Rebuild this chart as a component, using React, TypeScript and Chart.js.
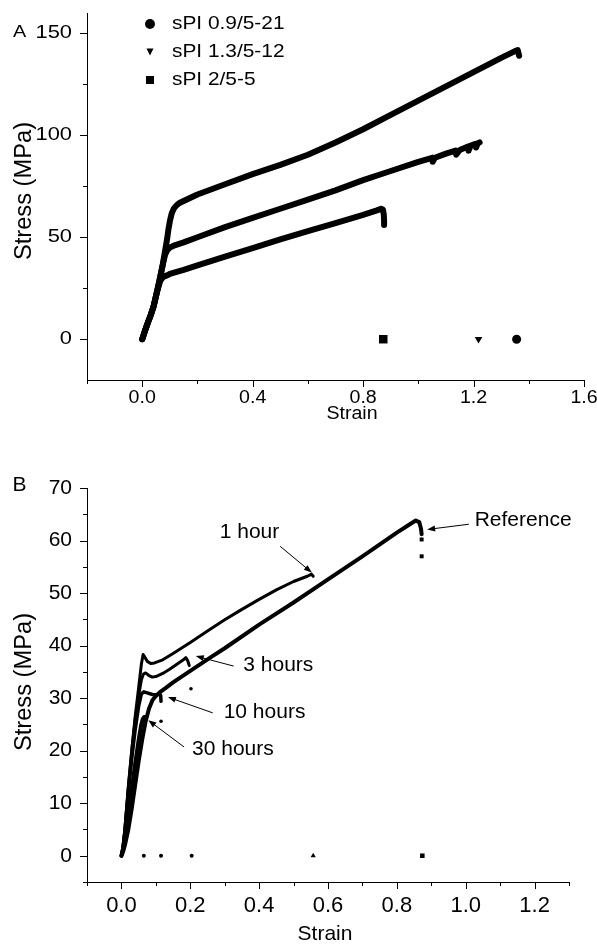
import { useEffect, useRef } from "react";
import { Chart, registerables } from "chart.js";
Chart.register(...registerables);

// ---------- Panel A data ----------
const strainA1 = [0, 0.005, 0.011, 0.02, 0.03, 0.041, 0.053, 0.065, 0.075, 0.083, 0.09, 0.095, 0.101, 0.107, 0.115, 0.125, 0.135, 0.15, 0.2, 0.3, 0.4, 0.5, 0.6, 0.7, 0.8, 0.9, 1.0, 1.1, 1.2, 1.3, 1.35, 1.36, 1.365];
const stressA1 = [0, 2, 4.5, 8, 11.5, 16, 23, 30.5, 37, 43.5, 49, 54, 58.5, 61.8, 64.2, 65.8, 66.8, 67.8, 71, 76, 81, 85.5, 90.5, 96.5, 103, 110, 117, 124, 131, 138, 141.3, 141.8, 139];
const strainA2 = [0, 0.005, 0.011, 0.02, 0.03, 0.041, 0.053, 0.065, 0.075, 0.083, 0.09, 0.1, 0.12, 0.15, 0.2, 0.3, 0.4, 0.5, 0.6, 0.7, 0.8, 0.9, 1.0, 1.05, 1.052, 1.06, 1.1, 1.135, 1.137, 1.15, 1.18, 1.182, 1.19, 1.207, 1.209, 1.215, 1.222];
const stressA2 = [0, 2, 4.5, 8, 11.5, 16, 23, 30.5, 37, 41.5, 43.5, 45, 46.2, 47.5, 50, 55, 59.5, 64, 68.5, 73, 78, 82.5, 87, 89, 87, 89, 91, 92.5, 90.5, 92.8, 94.5, 92.5, 95, 95.8, 94, 96, 96.5];
const strainA3 = [0, 0.005, 0.011, 0.02, 0.03, 0.041, 0.053, 0.065, 0.072, 0.08, 0.09, 0.1, 0.15, 0.2, 0.3, 0.4, 0.5, 0.6, 0.7, 0.8, 0.85, 0.865, 0.872, 0.875, 0.876, 0.876];
const stressA3 = [0, 2, 4.5, 8, 11.5, 16, 23, 28.5, 30, 30.8, 31.3, 32, 34, 36.2, 40.5, 44.7, 49, 53, 57, 61, 63.2, 64, 63.5, 61, 58, 56];
const breakStrainA = [1.356, 1.218, 0.873];
const breakStressA = [0, 0, 0];
const legendA = ["sPI 0.9/5-21", "sPI 1.3/5-12", "sPI 2/5-5"];
const majorAX = [0, 0.4, 0.8, 1.2, 1.6];
const minorAX = [-0.2, 0.2, 0.6, 1.0, 1.4];
const majorAY = [0, 50, 100, 150];
const minorAY = [25, 75, 125];

// ---------- Panel B data ----------
const strainRef = [0, 0.005, 0.01, 0.02, 0.03, 0.04, 0.05, 0.06, 0.07, 0.08, 0.09, 0.1, 0.115, 0.13, 0.15, 0.2, 0.26, 0.3, 0.4, 0.5, 0.6, 0.7, 0.8, 0.84, 0.855, 0.865, 0.87, 0.872];
const stressRef = [0, 0.8, 2, 5, 9, 13.5, 18, 22, 25.5, 28, 29.6, 30.4, 31.3, 32, 33, 35.2, 37.8, 39.5, 44, 48.2, 52.6, 57, 61.5, 63.2, 63.8, 63.5, 62.3, 61.2];
const dropStrainRef = [0.872, 0.872];
const dropStressRef = [60.2, 57];
const strain1h = [0, 0.005, 0.01, 0.02, 0.03, 0.04, 0.05, 0.058, 0.063, 0.068, 0.075, 0.085, 0.096, 0.12, 0.15, 0.2, 0.25, 0.3, 0.35, 0.4, 0.45, 0.5, 0.54, 0.552, 0.557];
const stress1h = [0, 2, 5, 13, 20, 26.5, 32, 36.5, 38.3, 37.8, 37, 36.6, 36.7, 37.3, 38.5, 40.6, 42.8, 44.9, 46.9, 48.8, 50.6, 52.2, 53.2, 53.6, 53.2];
const strain3h = [0, 0.005, 0.01, 0.02, 0.03, 0.04, 0.05, 0.058, 0.064, 0.07, 0.08, 0.09, 0.1, 0.12, 0.14, 0.16, 0.18, 0.187, 0.192, 0.197];
const stress3h = [0, 2, 5, 13, 20, 26, 30.5, 33.5, 34.6, 34.8, 34.3, 34, 34.1, 34.7, 35.5, 36.4, 37.3, 37.7, 37.2, 36.2];
const dropStrain3h = [0.202];
const dropStress3h = [31.8];
const strain10h = [0, 0.005, 0.01, 0.02, 0.03, 0.04, 0.05, 0.058, 0.065, 0.075, 0.09, 0.1, 0.11, 0.114, 0.115];
const stress10h = [0, 1.8, 4.5, 12, 18.5, 24, 28.5, 30.8, 31.2, 31, 30.7, 30.6, 30.8, 30.5, 29.4];
const dropStrain10h = [0.115];
const dropStress10h = [25.6];
const strain30h = [0, 0.005, 0.01, 0.02, 0.03, 0.04, 0.05, 0.057, 0.062, 0.066, 0.068];
const stress30h = [0, 1.2, 3, 7.5, 12.5, 17.5, 22, 24.8, 26, 26.4, 25.8];
const breakDotStrainB = [0.065, 0.115, 0.204];
const breakTriStrainB = [0.557];
const breakSqStrainB = [0.874];
const majorBX = [0, 0.2, 0.4, 0.6, 0.8, 1.0, 1.2];
const minorBX = [-0.1, 0.1, 0.3, 0.5, 0.7, 0.9, 1.1, 1.3];
const majorBY = [0, 10, 20, 30, 40, 50, 60, 70];
const minorBY = [-5, 5, 15, 25, 35, 45, 55, 65];
// annotations: [label, textX, textY, arrowFromX, arrowFromY, arrowToX, arrowToY, align]
const annotationsB: [string, number, number, number, number, number, number, CanvasTextAlign][] = [
  ["1 hour", 0.372, 61.6, 0.461, 58.9, 0.553, 53.9, "center"],
  ["Reference", 1.026, 63.8, 1.009, 63.1, 0.888, 62.1, "left"],
  ["3 hours", 0.354, 36.3, 0.326, 36.1, 0.216, 38.0, "left"],
  ["10 hours", 0.297, 27.3, 0.265, 27.2, 0.135, 30.2, "left"],
  ["30 hours", 0.205, 20.3, 0.182, 20.7, 0.078, 25.8, "left"],
];

const FONT = '"Liberation Sans", Arial, Helvetica, sans-serif';

const pts = (xs: number[], ys: number[]) => xs.map((x, i) => ({ x, y: ys[i] }));
const zeros = (xs: number[]) => xs.map((x) => ({ x, y: 0 }));

function txt(ctx: CanvasRenderingContext2D, s: string, x: number, y: number, size: number, sx = 1, sy = 1, align: CanvasTextAlign = "center", rot = 0) {
  ctx.save();
  ctx.translate(x, y);
  if (rot) ctx.rotate(rot);
  ctx.scale(sx, sy);
  ctx.font = `${size}px ${FONT}`;
  ctx.fillStyle = "#000";
  ctx.textAlign = align;
  ctx.textBaseline = "middle";
  ctx.fillText(s, 0, 0);
  ctx.restore();
}

function arrow(ctx: CanvasRenderingContext2D, x1: number, y1: number, x2: number, y2: number) {
  ctx.save();
  ctx.strokeStyle = "#000";
  ctx.fillStyle = "#000";
  ctx.lineWidth = 1;
  const a = Math.atan2(y2 - y1, x2 - x1);
  const L = 8, W = 3;
  ctx.beginPath();
  ctx.moveTo(x1, y1);
  ctx.lineTo(x2 - Math.cos(a) * L * 0.8, y2 - Math.sin(a) * L * 0.8);
  ctx.stroke();
  ctx.beginPath();
  ctx.moveTo(x2, y2);
  ctx.lineTo(x2 - Math.cos(a) * L - Math.sin(a) * W, y2 - Math.sin(a) * L + Math.cos(a) * W);
  ctx.lineTo(x2 - Math.cos(a) * L + Math.sin(a) * W, y2 - Math.sin(a) * L - Math.cos(a) * W);
  ctx.closePath();
  ctx.fill();
  ctx.restore();
}

type TickSpec = {
  majorX: number[]; minorX: number[]; majorY: number[]; minorY: number[];
  xLabel: (v: number) => string; yLabel: (v: number) => string;
  xFont: number; xSx: number; xLabelY: number;
  yFont: number; ySx: number; yLabelRight: number;
};

function drawAxes(chart: any, t: TickSpec) {
  const { ctx, chartArea } = chart;
  const xs = chart.scales.x, ys = chart.scales.y;
  ctx.save();
  ctx.strokeStyle = "#000";
  ctx.lineWidth = 1;
  ctx.beginPath();
  const b = chartArea.bottom, l = chartArea.left;
  t.majorX.forEach((v) => { const p = Math.round(xs.getPixelForValue(v)) + 0.5; ctx.moveTo(p, b); ctx.lineTo(p, b + 7); });
  t.minorX.forEach((v) => { const p = Math.round(xs.getPixelForValue(v)) + 0.5; ctx.moveTo(p, b); ctx.lineTo(p, b + 4); });
  t.majorY.forEach((v) => { const p = Math.round(ys.getPixelForValue(v)) + 0.5; ctx.moveTo(l, p); ctx.lineTo(l - 7, p); });
  t.minorY.forEach((v) => { const p = Math.round(ys.getPixelForValue(v)) + 0.5; ctx.moveTo(l, p); ctx.lineTo(l - 4, p); });
  ctx.stroke();
  ctx.restore();
  t.majorX.forEach((v) => txt(ctx, t.xLabel(v), xs.getPixelForValue(v), t.xLabelY, t.xFont, t.xSx, 1, "center"));
  t.majorY.forEach((v) => txt(ctx, t.yLabel(v), t.yLabelRight, ys.getPixelForValue(v), t.yFont, t.ySx, 1, "right"));
}

function baseOptions(xmin: number, xmax: number, ymin: number, ymax: number, pad: any, xH: number, yW: number) {
  const fitX = (s: any) => { s.height = xH; s.paddingLeft = 0; s.paddingRight = 0; s.paddingTop = 0; s.paddingBottom = 0; };
  const fitY = (s: any) => { s.width = yW; s.paddingLeft = 0; s.paddingRight = 0; s.paddingTop = 0; s.paddingBottom = 0; };
  return {
    animation: false,
    responsive: false,
    devicePixelRatio: 1,
    layout: { padding: pad },
    plugins: { legend: { display: false }, tooltip: { enabled: false } },
    scales: {
      x: { type: "linear", min: xmin, max: xmax, ticks: { display: false }, grid: { display: false }, border: { display: true, color: "#000", width: 1 }, afterFit: fitX },
      y: { type: "linear", min: ymin, max: ymax, ticks: { display: false }, grid: { display: false }, border: { display: true, color: "#000", width: 1 }, afterFit: fitY },
    },
  };
}

const lineDs = (data: any[], w: number) => ({
  data, showLine: true, borderColor: "#000", backgroundColor: "#000", borderWidth: w,
  pointRadius: 0, tension: 0, borderCapStyle: "round", borderJoinStyle: "round",
});
const markDs = (data: any[], style: string, r: number, rot = 0) => ({
  data, showLine: false, pointStyle: style, pointRadius: r, pointRotation: rot,
  backgroundColor: "#000", borderColor: "#000", borderWidth: 0,
});

export default function App() {
  const refA = useRef<HTMLCanvasElement>(null);
  const refB = useRef<HTMLCanvasElement>(null);

  useEffect(() => {
    const pluginA = {
      id: "panelA",
      afterDraw(chart: any) {
        const { ctx } = chart;
        drawAxes(chart, {
          majorX: majorAX, minorX: minorAX, majorY: majorAY, minorY: minorAY,
          xLabel: (v) => v.toFixed(1), yLabel: (v) => String(v),
          xFont: 17.5, xSx: 1.12, xLabelY: 398, yFont: 17.5, ySx: 1.25, yLabelRight: 72,
        });
        txt(ctx, "A", 19.5, 32.5, 16.5, 1.2, 1, "center");
        txt(ctx, "Strain", 352, 414, 17.5, 1.12, 1, "center");
        txt(ctx, "Stress (MPa)", 25, 191, 23, 1.03, 1, "center", -Math.PI / 2);
        // legend
        const ly = [24, 52, 80];
        const styles = ["circle", "triangle", "rect"];
        styles.forEach((st, i) => {
          ctx.save();
          ctx.fillStyle = "#000";
          ctx.beginPath();
          if (st === "circle") ctx.arc(150, ly[i], 5, 0, Math.PI * 2);
          else if (st === "triangle") { ctx.moveTo(146.5, ly[i] - 3.5); ctx.lineTo(153.5, ly[i] - 3.5); ctx.lineTo(150, ly[i] + 3.5); ctx.closePath(); }
          else ctx.rect(146, ly[i] - 4, 8, 8);
          ctx.fill();
          ctx.restore();
          txt(ctx, legendA[i], 172, ly[i], 17.7, 1.18, 1, "left");
        });
      },
    };
    const chartA = new Chart(refA.current as HTMLCanvasElement, {
      type: "scatter",
      data: {
        datasets: [
          lineDs(pts(strainA1, stressA1), 6),
          lineDs(pts(strainA2, stressA2), 6),
          lineDs(pts(strainA3, stressA3), 6),
          markDs(pts([breakStrainA[0]], [breakStressA[0]]), "circle", 4.5),
          markDs(pts([breakStrainA[1]], [breakStressA[1]]), "triangle", 4.4, 180),
          markDs(pts([breakStrainA[2]], [breakStressA[2]]), "rect", 6),
        ],
      },
      options: baseOptions(-0.2, 1.6, -20, 160, { top: 13, right: 13, left: 0, bottom: 0 }, 90, 87) as any,
      plugins: [pluginA],
    });

    const pluginB = {
      id: "panelB",
      afterDraw(chart: any) {
        const { ctx } = chart;
        const xs = chart.scales.x, ys = chart.scales.y;
        drawAxes(chart, {
          majorX: majorBX, minorX: minorBX, majorY: majorBY, minorY: minorBY,
          xLabel: (v) => v.toFixed(1), yLabel: (v) => String(v),
          xFont: 22, xSx: 1, xLabelY: 906 - 470, yFont: 21, ySx: 1, yLabelRight: 72,
        });
        txt(ctx, "B", 19.5, 485.5 - 470, 21, 1, 1, "center");
        txt(ctx, "Strain", 325, 934 - 470, 21, 1, 1, "center");
        txt(ctx, "Stress (MPa)", 25, 682 - 470, 23, 1.03, 1, "center", -Math.PI / 2);
        annotationsB.forEach(([s, tx, ty, ax, ay, bx, by, al]) => {
          txt(ctx, s, xs.getPixelForValue(tx), ys.getPixelForValue(ty), 21, 1, 1, al);
          arrow(ctx, xs.getPixelForValue(ax), ys.getPixelForValue(ay), xs.getPixelForValue(bx), ys.getPixelForValue(by));
        });
      },
    };
    const chartB = new Chart(refB.current as HTMLCanvasElement, {
      type: "scatter",
      data: {
        datasets: [
          lineDs(pts(strainRef, stressRef), 4),
          lineDs(pts(strain1h, stress1h), 3),
          lineDs(pts(strain3h, stress3h), 3),
          lineDs(pts(strain10h, stress10h), 3.5),
          lineDs(pts(strain30h, stress30h), 4),
          markDs(pts(dropStrainRef, dropStressRef), "rect", 2.8),
          markDs(pts(dropStrain3h, dropStress3h), "circle", 1.8),
          markDs(pts(dropStrain10h, dropStress10h), "circle", 1.8),
          markDs(zeros(breakDotStrainB), "circle", 2),
          markDs(zeros(breakTriStrainB), "triangle", 3),
          markDs(zeros(breakSqStrainB), "rect", 3.2),
        ],
      },
      options: baseOptions(-0.1, 1.3, -5, 70, { top: 18, right: 28, left: 0, bottom: 0 }, 62, 87) as any,
      plugins: [pluginB],
    });
    return () => { chartA.destroy(); chartB.destroy(); };
  }, []);

  return (
    <div style={{ position: "absolute", left: 0, top: 0, width: 597, height: 944, background: "#fff" }}>
      <canvas ref={refA} width={597} height={470} style={{ position: "absolute", left: 0, top: 0, width: 597, height: 470 }} />
      <canvas ref={refB} width={597} height={474} style={{ position: "absolute", left: 0, top: 470, width: 597, height: 474 }} />
    </div>
  );
}
